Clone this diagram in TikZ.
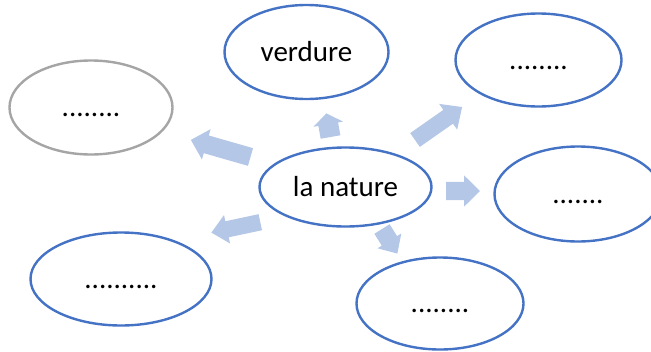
\documentclass[tikz,border=0pt]{standalone}
\usepackage{fontspec}
\setmainfont{Carlito}
\usetikzlibrary{shapes.geometric}
\definecolor{ellblue}{HTML}{4472C4}
\definecolor{ellgray}{HTML}{A5A5A5}
\definecolor{arrfill}{HTML}{B4C7E7}
% x y angle length shaft-half head-half head-length
\newcommand\blockarr[7]{%
  \fill[arrfill, shift={(#1,#2)}, rotate=#3]
    (0,-#5) -- ({#4-#7},-#5) -- ({#4-#7},-#6) -- (#4,0) --
    ({#4-#7},#6) -- ({#4-#7},#5) -- (0,#5) -- cycle;}
\tikzset{
  bubble/.style={ellipse, draw=ellblue, line width=2.4pt, inner sep=0pt,
    text height=18pt, text depth=0pt,
    font=\fontsize{29}{34}\selectfont},
  graybubble/.style={bubble, draw=ellgray}
}
\begin{document}
\begin{tikzpicture}[x=1pt,y=-1pt]
\useasboundingbox (0,0) rectangle (651,351);
\clip (0,0) rectangle (651,351);
% ellipses
\node[graybubble, minimum width=163pt, minimum height=94pt] (g)  at (91,107.5) {........};
\node[bubble, minimum width=164pt, minimum height=94pt] (v)  at (306.5,52) {verdure};
\node[bubble, minimum width=166pt, minimum height=93pt] (tr) at (538.5,60) {........};
\node[bubble, minimum width=167pt, minimum height=95pt] (r)  at (578,194) {.......};
\node[bubble, minimum width=181pt, minimum height=93pt] (bl) at (121,279) {..........};
\node[bubble, minimum width=167pt, minimum height=92pt] (bm) at (440,303.5) {........};
\node[bubble, minimum width=172pt, minimum height=79pt] (c)  at (345.5,187) {la nature};
% block arrows
\blockarr{250.5}{157}{164}{62}{9.2}{15.8}{16}
\blockarr{330.5}{137}{100}{24}{10}{15}{11}
\blockarr{415}{140}{35}{57.5}{8.4}{15.7}{17}
\blockarr{446}{191}{0}{34}{9.2}{15.7}{16}
\blockarr{382}{229}{-58}{29}{9}{14}{15}
\blockarr{260.3}{222.2}{-168}{50}{8.2}{14.5}{16}
\end{tikzpicture}
\end{document}
